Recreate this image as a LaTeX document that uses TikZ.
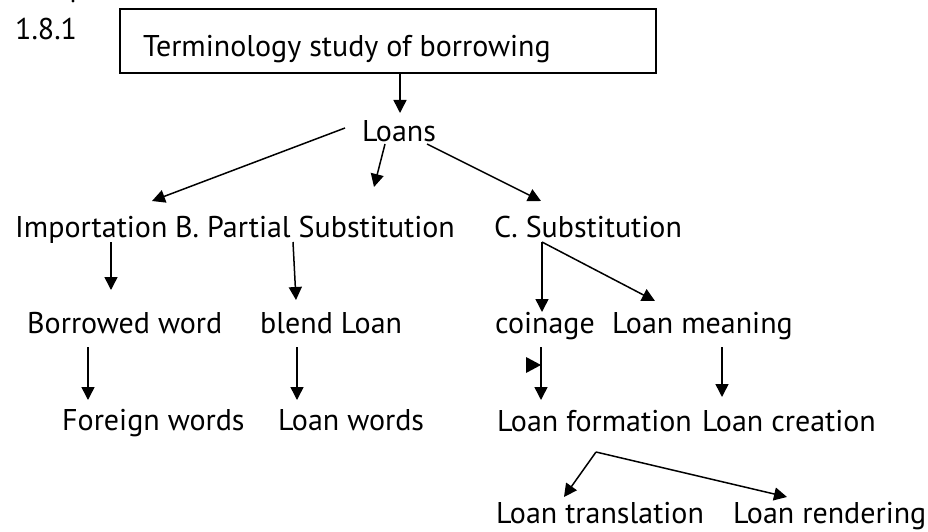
\documentclass[tikz,border=0pt]{standalone}
\usepackage{fontspec}
\setmainfont{PT Sans}
\usetikzlibrary{arrows.meta,calc}
\tikzset{
  txt/.style={anchor=base west,inner sep=0pt,font=\fontsize{30}{34}\selectfont},
  arr/.style={line width=1.5pt,-{Triangle[length=13pt,width=13pt]}},
  boxst/.style={draw,line width=1.3pt,minimum width=536pt,minimum height=64pt,inner sep=0pt}
}
\begin{document}
\begin{tikzpicture}[x=1pt,y=-1pt]
\useasboundingbox (0,0) rectangle (928,532);
\fill (73,1) circle (1.6pt);
\node[txt] (num) at (15,40) {1.8.1};
\node[boxst] (box) at (388,41) {};
\node[txt] (title) at (143,57) {Terminology study of borrowing};
\node[txt] (loans) at (362,141) {Loans};
\node[txt] (imp) at (15,237) {Importation};
\node[txt] (part) at (175,237) {B. Partial Substitution};
\node[txt] (sub) at (494,237) {C. Substitution};
\node[txt] (borr) at (27,333) {Borrowed word};
\node[txt] (blend) at (260,333) {blend Loan};
\node[txt] (coin) at (495,333) {coinage};
\node[txt] (mean) at (612,333) {Loan meaning};
\node[txt] (foreign) at (62,430) {Foreign words};
\node[txt] (lwords) at (278,430) {Loan words};
\node[txt] (form) at (497,431) {Loan formation};
\node[txt] (creat) at (702,431) {Loan creation};
\node[txt] (trans) at (496,523) {Loan translation};
\node[txt] (rend) at (733,523) {Loan rendering};
% connectors
\coordinate (c0) at (400,113);
\draw[arr] (box.south -| c0) -- (c0);
\coordinate (l1) at (345,128); \coordinate (t1) at (152,201);
\draw[arr] (l1) -- (t1);
\coordinate (l2) at (385,144); \coordinate (t2) at (374,187);
\draw[arr] (l2) -- (t2);
\coordinate (l3) at (427,144); \coordinate (t3) at (541,201);
\draw[arr] (l3) -- (t3);
\coordinate (i1) at (111,242); \coordinate (i2) at (111,290);
\draw[arr] (i1) -- (i2);
\coordinate (p1) at (293,242); \coordinate (p2) at (296,300);
\draw[arr] (p1) -- (p2);
\coordinate (s1) at (542,242); \coordinate (s2) at (542,312); \coordinate (s3) at (655,301);
\draw[arr] (s1) -- (s2);
\draw[arr] (s1) -- (s3);
\coordinate (b1) at (88,347); \coordinate (b2) at (88,400);
\draw[arr] (b1) -- (b2);
\coordinate (e1) at (297,347); \coordinate (e2) at (297,400);
\draw[arr] (e1) -- (e2);
\coordinate (k1) at (541,347); \coordinate (k2) at (541,400);
\draw[arr] (k1) -- (k2);
\fill (526,357) -- (541,365) -- (526,373) -- cycle;
\coordinate (m1) at (722,347); \coordinate (m2) at (722,397);
\draw[arr] (m1) -- (m2);
\coordinate (f0) at (596,452); \coordinate (f1) at (564,497); \coordinate (f2) at (787,497);
\draw[arr] (f0) -- (f1);
\draw[arr] (f0) -- (f2);
\end{tikzpicture}
\end{document}
